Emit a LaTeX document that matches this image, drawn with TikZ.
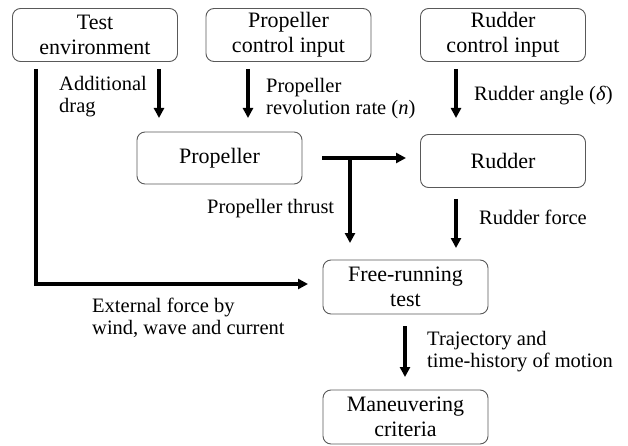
\documentclass[tikz,border=0pt]{standalone}
\usepackage{fontspec}
\setmainfont{Liberation Serif}
\usetikzlibrary{arrows.meta}
\begin{document}
\begin{tikzpicture}[x=1pt,y=-1pt,
  box/.style={draw=black!65, line width=0.9pt, rounded corners=8pt, minimum width=165pt, minimum height=53pt, align=center, inner sep=0pt, font=\fontsize{22}{25}\selectfont},
  lbl/.style={anchor=west, align=left, inner sep=0pt, font=\fontsize{20.5}{22}\selectfont},
  arr/.style={line width=3.2pt, -{Triangle[length=10pt,width=10pt]}}]
\useasboundingbox (0,0) rectangle (628,446);
% boxes
\node[box] (te) at (95,35) {Test\\environment};
\node[box] (pci) at (288.5,35) {Propeller\\control input};
\node[box] (rci) at (503,35) {Rudder\\control input};
\node[box, minimum height=52pt] (prop) at (219.5,158) {Propeller};
\node[box] (rud) at (503,161) {Rudder};
\node[box, minimum height=54pt] (frt) at (405.5,287) {Free-running\\test};
\node[box, minimum height=54pt] (mc) at (405.5,417) {Maneuvering\\criteria};
% connector end points
\coordinate (a1) at (159,69); \coordinate (a2) at (159,118);
\coordinate (b1) at (248,69); \coordinate (b2) at (248,118);
\coordinate (c1) at (456,69); \coordinate (c2) at (456,118);
\coordinate (d1) at (322,158); \coordinate (d2) at (406,158);
\coordinate (e1) at (350,158); \coordinate (e2) at (350,243);
\coordinate (f1) at (456,199); \coordinate (f2) at (456,248);
\coordinate (g1) at (36,69); \coordinate (g2) at (36,284); \coordinate (g3) at (308,284);
\coordinate (h1) at (405,326); \coordinate (h2) at (405,377);
% connectors
\draw[arr] (a1) -- (a2);
\draw[arr] (b1) -- (b2);
\draw[arr] (c1) -- (c2);
\draw[arr] (d1) -- (d2);
\draw[arr] (e1) -- (e2);
\draw[arr] (f1) -- (f2);
\draw[arr] (g1) -- (g2) -- (g3);
\draw[arr] (h1) -- (h2);
% labels
\node[lbl] (l1) at (59,97) {Additional\\drag};
\node[lbl] (l2) at (266,99) {Propeller\\revolution rate (\textit{n})};
\node[lbl] (l3) at (474,96) {Rudder angle (\textit{δ})};
\node[lbl] (l4) at (207,209) {Propeller thrust};
\node[lbl] (l5) at (479,217) {Rudder force};
\node[lbl] (l6) at (92,318) {External force by\\wind, wave and current};
\node[lbl] (l7) at (427,352) {Trajectory and\\time-history of motion};
\end{tikzpicture}
\end{document}
